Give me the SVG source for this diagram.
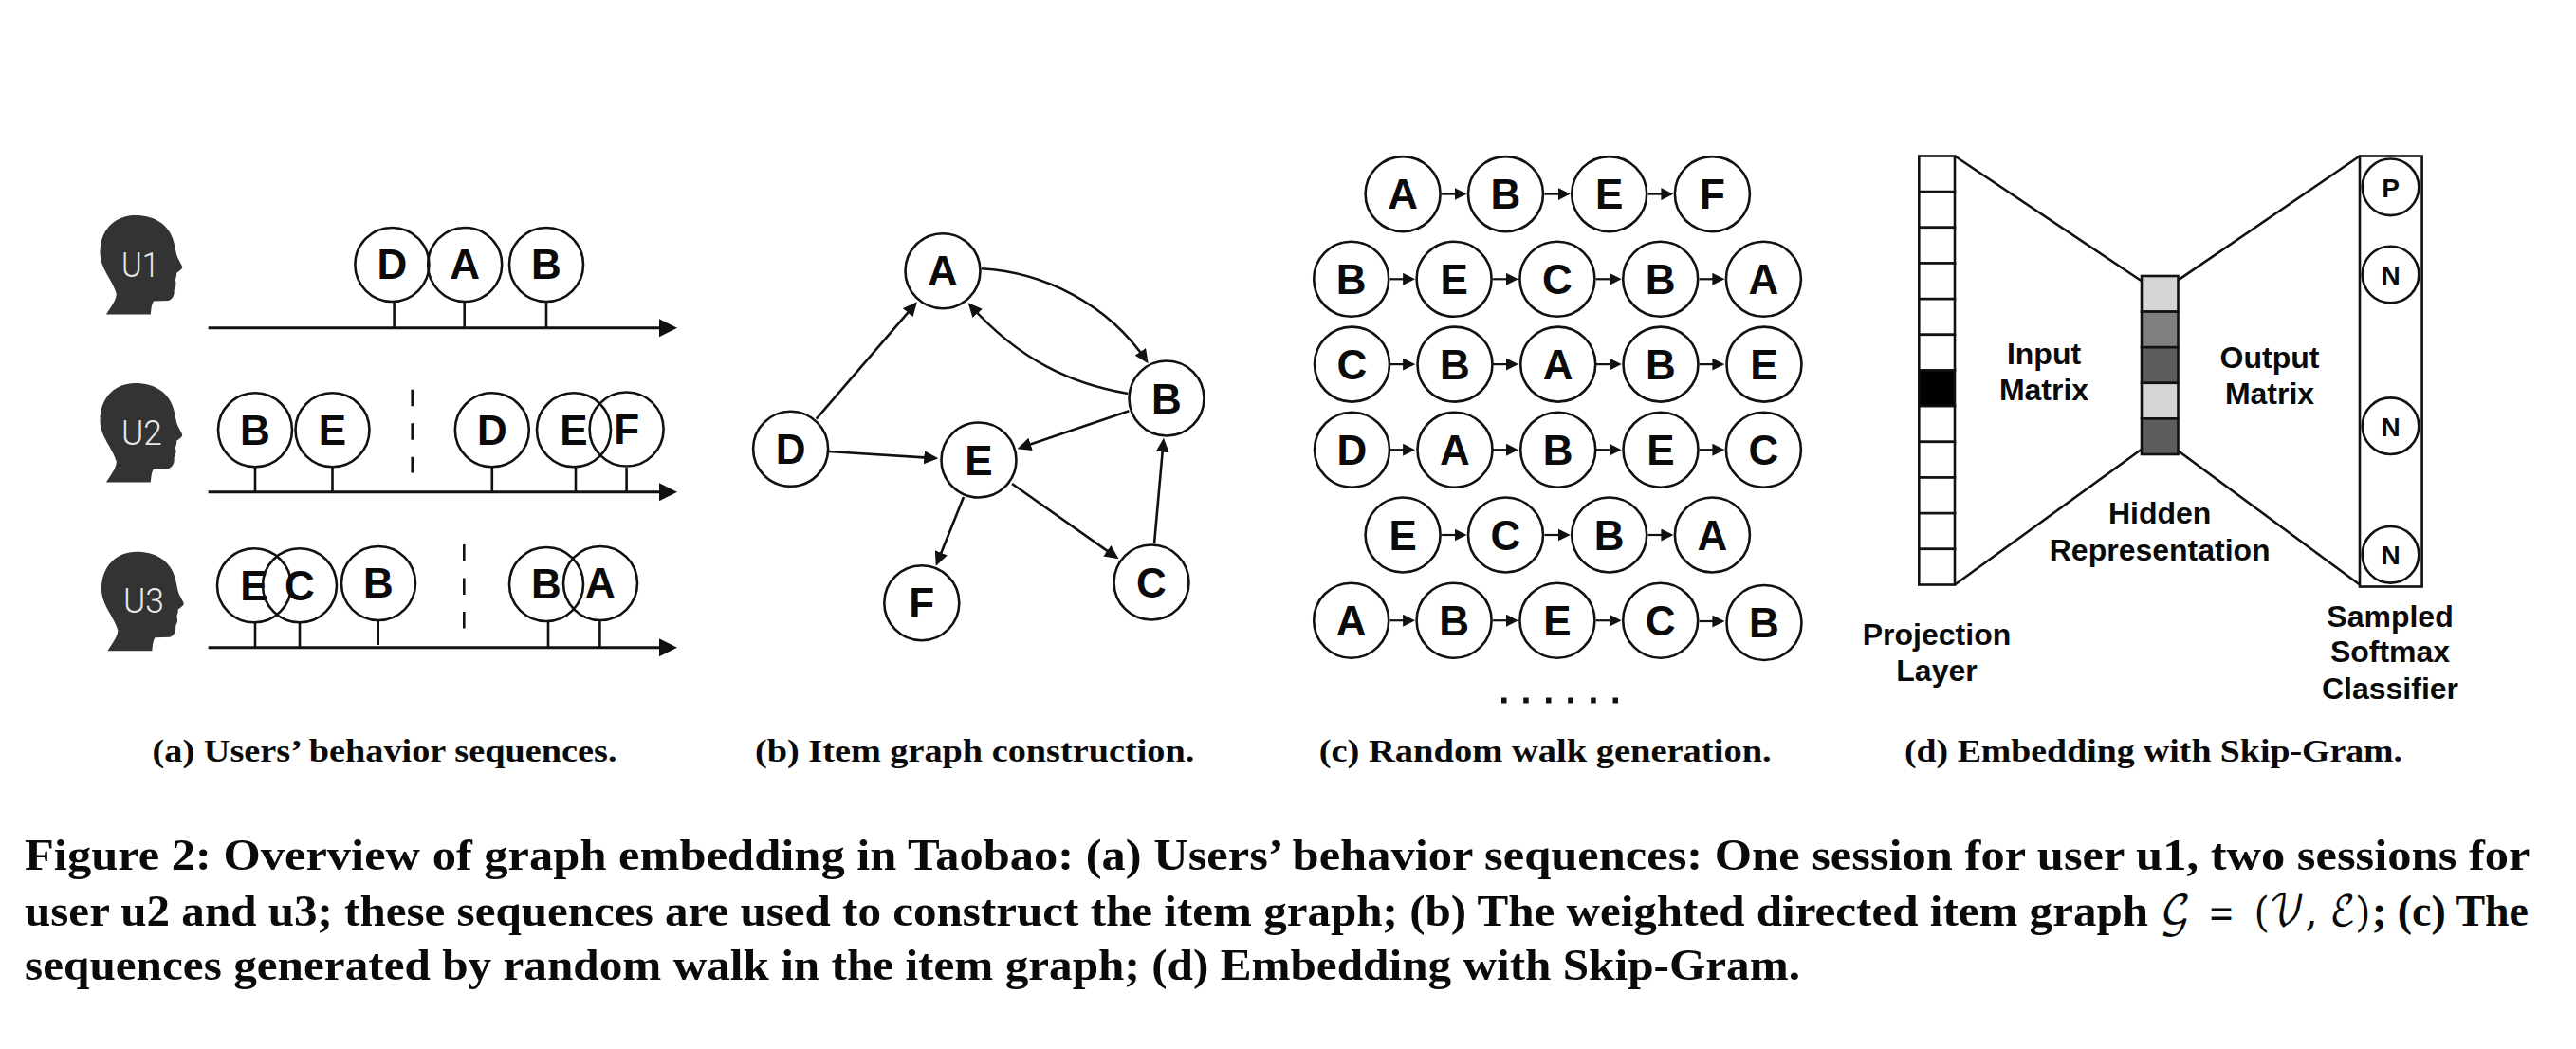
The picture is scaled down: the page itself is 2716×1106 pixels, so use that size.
<svg xmlns="http://www.w3.org/2000/svg" width="2716" height="1106" viewBox="0 0 2716 1106">
<style>
.n{fill:#fff;stroke:#111;stroke-width:2.6}
.o{fill:none;stroke:#111;stroke-width:2.6}
.l{font-family:"Liberation Sans",Arial,sans-serif;font-weight:700;text-anchor:middle;fill:#0a0a0a}
.b{font-size:44px}
.m{font-size:28px}
.t{font-size:32px}
.u{font-family:Roboto,"Liberation Sans",Arial,sans-serif;font-weight:300;font-size:36px;fill:#e8e8e8}
.ln{fill:none;stroke:#111;stroke-width:2.6}
.ax{fill:none;stroke:#111;stroke-width:3;marker-end:url(#axh)}
.gr{fill:none;stroke:#111;stroke-width:2.6;marker-end:url(#gh)}
.wk{fill:none;stroke:#111;stroke-width:2.2;marker-end:url(#wh)}
.ds{fill:none;stroke:#111;stroke-width:2.6;stroke-dasharray:17.5 18}
.c{font-family:"Liberation Serif","Times New Roman",serif;font-weight:700;fill:#0a0a0a}
.c1{font-size:34px}
.c2{font-size:47px}
.cal{font-family:"DejaVu Math TeX Gyre","DejaVu Serif","Liberation Serif",serif;font-weight:400;font-size:44px}
</style>
<defs>
<marker id="axh" markerUnits="userSpaceOnUse" markerWidth="20" markerHeight="20" refX="2" refY="10" orient="auto"><path d="M0,0.5L19,10L0,19.5Z" fill="#111"/></marker>
<marker id="gh" markerUnits="userSpaceOnUse" markerWidth="15" markerHeight="14" refX="12" refY="7" orient="auto"><path d="M0,0L15,7L0,14Z" fill="#111"/></marker>
<marker id="wh" markerUnits="userSpaceOnUse" markerWidth="13" markerHeight="13" refX="10.4" refY="6.5" orient="auto"><path d="M0,0L13,6.5L0,13Z" fill="#111"/></marker>
<path id="head" fill="#333" d="M6.5,104.5 C11,97 17,90 17.3,82.7 C13,68 0,56 0,39.3 C0,14 17,0 36.9,0 C58,0 71,10 76,23 C78.5,29 79,34 80.2,39.3 C81,45 85,50 86.7,54.3 C87,57 83,59 80.5,61 C81.5,64 79,67 79.5,69 C81,73 79,76 78,79 C79,84 76,89 72,90 L56.4,90.5 C54,94 54,99 53.3,104.5Z"/>
</defs>

<g id="connectors">
<g id="axes-a">
<path class="ax" d="M219.6,345.7H697"/><path class="ax" d="M219.6,518.7H697"/><path class="ax" d="M219.6,682.7H697"/>
<path class="ln" d="M415.6,318V345M489.7,318V345M576,318V345"/>
<path class="ln" d="M269,493V518M350.5,493V518M518.8,493V518M607,493V518M660.6,493V518"/>
<path class="ln" d="M269,657V682M316,657V682M398.7,655V680M578,656V682M632.4,655V682"/>
<path class="ds" d="M434.7,410.7V498.5"/><path class="ds" d="M489.3,574V663"/>
</g>
<g id="edges-b">
<path class="gr" d="M860.7,441.7L965,320.6"/>
<path class="gr" d="M873.6,476L986.3,483.1"/>
<path class="gr" d="M1035,283.3C1100,287 1168,320 1209,380.8"/>
<path class="gr" d="M1189.3,415C1130,405 1075,380 1022.7,321.5"/>
<path class="gr" d="M1190.4,433.3L1075.3,472.3"/>
<path class="gr" d="M1016,524L987.9,593.9"/>
<path class="gr" d="M1067,510L1177.1,587.6"/>
<path class="gr" d="M1217,573.3L1226.7,464.7"/>
</g>
<g id="edges-c">
<path class="wk" d="M1520.1,204.6H1543.9"/><path class="wk" d="M1628.5,204.6H1653.1"/><path class="wk" d="M1737.7,204.6H1761.8"/>
<path class="wk" d="M1465.7,294.3H1489.5"/><path class="wk" d="M1574.1,294.3H1598.3"/><path class="wk" d="M1682.9,294.3H1707.1"/><path class="wk" d="M1791.7,294.3H1815.8"/>
<path class="wk" d="M1465.7,384.1H1489.5"/><path class="wk" d="M1574.1,384.1H1598.3"/><path class="wk" d="M1682.9,384.1H1707.1"/><path class="wk" d="M1791.7,384.1H1815.8"/>
<path class="wk" d="M1465.7,474.2H1489.5"/><path class="wk" d="M1574.1,474.2H1598.3"/><path class="wk" d="M1682.9,474.2H1707.1"/><path class="wk" d="M1791.7,474.2H1815.8"/>
<path class="wk" d="M1520.1,564H1543.9"/><path class="wk" d="M1628.5,564H1653.1"/><path class="wk" d="M1737.7,564H1761.8"/>
<path class="wk" d="M1465.7,654.2H1489.5"/><path class="wk" d="M1574.1,654.2H1598.3"/><path class="wk" d="M1682.9,654.2H1707.1"/><path class="wk" d="M1791.7,655H1815.8"/>
</g>
<g id="edges-d">
<path class="ln" d="M2061,164.5L2257.5,296M2061,616.5L2257.5,474M2296.5,295.4L2488,164.5M2296.5,475.3L2488,616.5"/>
</g>
</g>

<g id="u1"><use href="#head" x="105.5" y="227"/><text class="u" x="128" y="292" textLength="40" lengthAdjust="spacingAndGlyphs">U1</text></g>
<g id="u2"><use href="#head" x="105.5" y="404"/><text class="u" x="128" y="469" textLength="43" lengthAdjust="spacingAndGlyphs">U2</text></g>
<g id="u3"><use href="#head" x="107" y="581.7"/><text class="u" x="130" y="646" textLength="43" lengthAdjust="spacingAndGlyphs">U3</text></g>

<g id="a-u1-d"><circle class="o" cx="413.4" cy="279" r="39"/><text class="l b" x="413.4" y="294">D</text></g>
<g id="a-u1-a"><circle class="o" cx="490.2" cy="279" r="39"/><text class="l b" x="490.2" y="294">A</text></g>
<g id="a-u1-b"><circle class="o" cx="576" cy="279" r="39"/><text class="l b" x="576" y="294">B</text></g>
<g id="a-u2-b"><circle class="o" cx="269" cy="453.3" r="39"/><text class="l b" x="269" y="468.5">B</text></g>
<g id="a-u2-e"><circle class="o" cx="350.5" cy="453.3" r="39"/><text class="l b" x="350.5" y="468.5">E</text></g>
<g id="a-u2-d"><circle class="o" cx="518.8" cy="453.3" r="39"/><text class="l b" x="518.8" y="468.5">D</text></g>
<g id="a-u2-e2"><circle class="o" cx="605" cy="453.3" r="39"/><text class="l b" x="605" y="468.5">E</text></g>
<g id="a-u2-f"><circle class="o" cx="660.6" cy="452.5" r="39"/><text class="l b" x="660.6" y="468">F</text></g>
<g id="a-u3-e"><circle class="o" cx="268" cy="617.3" r="39"/><text class="l b" x="268" y="632.5">E</text></g>
<g id="a-u3-c"><circle class="o" cx="316" cy="617.3" r="39"/><text class="l b" x="316" y="632.5">C</text></g>
<g id="a-u3-b"><circle class="o" cx="399" cy="615" r="39"/><text class="l b" x="399" y="630">B</text></g>
<g id="a-u3-b2"><circle class="o" cx="576" cy="616" r="39"/><text class="l b" x="576" y="631">B</text></g>
<g id="a-u3-a"><circle class="o" cx="633" cy="615" r="39"/><text class="l b" x="633" y="630">A</text></g>

<g id="b-a"><circle class="n" cx="994" cy="285.7" r="39.5"/><text class="l b" x="994" y="301">A</text></g>
<g id="b-b"><circle class="n" cx="1230" cy="420" r="39.5"/><text class="l b" x="1230" y="435.5">B</text></g>
<g id="b-d"><circle class="n" cx="833.6" cy="473.3" r="39.5"/><text class="l b" x="833.6" y="488.5">D</text></g>
<g id="b-e"><circle class="n" cx="1032" cy="485" r="39.5"/><text class="l b" x="1032" y="500.5">E</text></g>
<g id="b-f"><circle class="n" cx="971.8" cy="635.7" r="39.5"/><text class="l b" x="971.8" y="651">F</text></g>
<g id="b-c"><circle class="n" cx="1214" cy="614" r="39.5"/><text class="l b" x="1214" y="629.5">C</text></g>

<g id="c-r1-a"><circle class="n" cx="1479.1" cy="204.6" r="39.5"/><text class="l b" x="1479.1" y="220">A</text></g>
<g id="c-r1-b"><circle class="n" cx="1587.5" cy="204.6" r="39.5"/><text class="l b" x="1587.5" y="220">B</text></g>
<g id="c-r1-e"><circle class="n" cx="1696.7" cy="204.6" r="39.5"/><text class="l b" x="1696.7" y="220">E</text></g>
<g id="c-r1-f"><circle class="n" cx="1805.4" cy="204.6" r="39.5"/><text class="l b" x="1805.4" y="220">F</text></g>
<g id="c-r2-b"><circle class="n" cx="1424.7" cy="294.3" r="39.5"/><text class="l b" x="1424.7" y="310">B</text></g>
<g id="c-r2-e"><circle class="n" cx="1533.1" cy="294.3" r="39.5"/><text class="l b" x="1533.1" y="310">E</text></g>
<g id="c-r2-c"><circle class="n" cx="1641.9" cy="294.3" r="39.5"/><text class="l b" x="1641.9" y="310">C</text></g>
<g id="c-r2-b2"><circle class="n" cx="1750.7" cy="294.3" r="39.5"/><text class="l b" x="1750.7" y="310">B</text></g>
<g id="c-r2-a"><circle class="n" cx="1859.4" cy="294.3" r="39.5"/><text class="l b" x="1859.4" y="310">A</text></g>
<g id="c-r3-c"><circle class="n" cx="1425.5" cy="384.1" r="39.5"/><text class="l b" x="1425.5" y="400">C</text></g>
<g id="c-r3-b"><circle class="n" cx="1534" cy="384.1" r="39.5"/><text class="l b" x="1534" y="400">B</text></g>
<g id="c-r3-a"><circle class="n" cx="1642.7" cy="384.1" r="39.5"/><text class="l b" x="1642.7" y="400">A</text></g>
<g id="c-r3-b2"><circle class="n" cx="1751" cy="384.1" r="39.5"/><text class="l b" x="1751" y="400">B</text></g>
<g id="c-r3-e"><circle class="n" cx="1860" cy="384.1" r="39.5"/><text class="l b" x="1860" y="400">E</text></g>
<g id="c-r4-d"><circle class="n" cx="1425.5" cy="474.2" r="39.5"/><text class="l b" x="1425.5" y="490">D</text></g>
<g id="c-r4-a"><circle class="n" cx="1534" cy="474.2" r="39.5"/><text class="l b" x="1534" y="490">A</text></g>
<g id="c-r4-b"><circle class="n" cx="1642.7" cy="474.2" r="39.5"/><text class="l b" x="1642.7" y="490">B</text></g>
<g id="c-r4-e"><circle class="n" cx="1751" cy="474.2" r="39.5"/><text class="l b" x="1751" y="490">E</text></g>
<g id="c-r4-c"><circle class="n" cx="1859.4" cy="474.2" r="39.5"/><text class="l b" x="1859.4" y="490">C</text></g>
<g id="c-r5-e"><circle class="n" cx="1479.1" cy="564" r="39.5"/><text class="l b" x="1479.1" y="580">E</text></g>
<g id="c-r5-c"><circle class="n" cx="1587.5" cy="564" r="39.5"/><text class="l b" x="1587.5" y="580">C</text></g>
<g id="c-r5-b"><circle class="n" cx="1696.7" cy="564" r="39.5"/><text class="l b" x="1696.7" y="580">B</text></g>
<g id="c-r5-a"><circle class="n" cx="1805.4" cy="564" r="39.5"/><text class="l b" x="1805.4" y="580">A</text></g>
<g id="c-r6-a"><circle class="n" cx="1424.7" cy="654.2" r="39.5"/><text class="l b" x="1424.7" y="670">A</text></g>
<g id="c-r6-b"><circle class="n" cx="1533.1" cy="654.2" r="39.5"/><text class="l b" x="1533.1" y="670">B</text></g>
<g id="c-r6-e"><circle class="n" cx="1641.9" cy="654.2" r="39.5"/><text class="l b" x="1641.9" y="670">E</text></g>
<g id="c-r6-c"><circle class="n" cx="1750.7" cy="654.2" r="39.5"/><text class="l b" x="1750.7" y="670">C</text></g>
<g id="c-r6-b2"><circle class="n" cx="1860" cy="656.5" r="39.5"/><text class="l b" x="1860" y="672">B</text></g>
<g id="c-dots" fill="#111"><rect x="1583" y="735.5" width="5.5" height="6"/><rect x="1606.2" y="735.5" width="5.5" height="6"/><rect x="1630" y="735.5" width="5.5" height="6"/><rect x="1653.2" y="735.5" width="5.5" height="6"/><rect x="1677.2" y="735.5" width="5.5" height="6"/><rect x="1700.5" y="735.5" width="5.5" height="6"/></g>

<g id="projection-layer">
<rect class="n" x="2023.3" y="164.5" width="37.7" height="37.67"/><rect class="n" x="2023.3" y="202.17" width="37.7" height="37.67"/><rect class="n" x="2023.3" y="239.83" width="37.7" height="37.67"/><rect class="n" x="2023.3" y="277.5" width="37.7" height="37.67"/><rect class="n" x="2023.3" y="315.17" width="37.7" height="37.67"/><rect class="n" x="2023.3" y="352.83" width="37.7" height="37.67"/>
<rect class="n" x="2023.3" y="390.5" width="37.7" height="37.67" style="fill:#000"/>
<rect class="n" x="2023.3" y="428.17" width="37.7" height="37.67"/><rect class="n" x="2023.3" y="465.83" width="37.7" height="37.67"/><rect class="n" x="2023.3" y="503.5" width="37.7" height="37.67"/><rect class="n" x="2023.3" y="541.17" width="37.7" height="37.67"/><rect class="n" x="2023.3" y="578.83" width="37.7" height="37.67"/>
<text class="l t" x="2042" y="679.7">Projection</text><text class="l t" x="2042" y="718">Layer</text>
</g>
<g id="hidden-layer">
<rect class="n" x="2258" y="291" width="38.5" height="37.6" style="fill:#d6d4d4"/><rect class="n" x="2258" y="328.6" width="38.5" height="37.6" style="fill:#7e807e"/><rect class="n" x="2258" y="366.2" width="38.5" height="37.6" style="fill:#5d5d5d"/><rect class="n" x="2258" y="403.8" width="38.5" height="37.6" style="fill:#d6d4d4"/><rect class="n" x="2258" y="441.4" width="38.5" height="37.6" style="fill:#5d5d5d"/>
<text class="l t" x="2277.2" y="552">Hidden</text><text class="l t" x="2277.2" y="590.8">Representation</text>
</g>
<g id="input-matrix"><text class="l t" x="2155" y="384">Input</text><text class="l t" x="2155" y="421.5">Matrix</text></g>
<g id="output-matrix"><text class="l t" x="2393" y="388.3">Output</text><text class="l t" x="2393" y="425.9">Matrix</text></g>
<g id="softmax">
<rect class="n" x="2488" y="164.5" width="65.6" height="454"/>
<circle class="n" cx="2520.5" cy="197.3" r="29.8"/><text class="l m" x="2520.5" y="208">P</text>
<circle class="n" cx="2520.5" cy="289.5" r="29.8"/><text class="l m" x="2520.5" y="300">N</text>
<circle class="n" cx="2520.5" cy="449.2" r="29.8"/><text class="l m" x="2520.5" y="459.5">N</text>
<circle class="n" cx="2520.5" cy="584.8" r="29.8"/><text class="l m" x="2520.5" y="594.7">N</text>
<text class="l t" x="2520" y="660.8">Sampled</text><text class="l t" x="2520" y="698.3">Softmax</text><text class="l t" x="2520" y="737">Classifier</text>
</g>

<g id="captions">
<text class="c c1" x="160.5" y="802.7" textLength="490" lengthAdjust="spacingAndGlyphs">(a) Users’ behavior sequences.</text>
<text class="c c1" x="796" y="802.7" textLength="463.3" lengthAdjust="spacingAndGlyphs">(b) Item graph construction.</text>
<text class="c c1" x="1390.7" y="802.7" textLength="477" lengthAdjust="spacingAndGlyphs">(c) Random walk generation.</text>
<text class="c c1" x="2008" y="802.7" textLength="525" lengthAdjust="spacingAndGlyphs">(d) Embedding with Skip-Gram.</text>
</g>
<g id="figure-caption">
<text class="c c2" x="26" y="917.3" textLength="2641.4" lengthAdjust="spacingAndGlyphs">Figure 2: Overview of graph embedding in Taobao: (a) Users’ behavior sequences: One session for user u1, two sessions for</text>
<text class="c c2" x="26" y="976" textLength="2239" lengthAdjust="spacingAndGlyphs">user u2 and u3; these sequences are used to construct the item graph; (b) The weighted directed item graph</text>
<text class="c cal" x="2277" y="976" textLength="33" lengthAdjust="spacingAndGlyphs">𝒢</text>
<text class="c cal" x="2329" y="976" textLength="26" lengthAdjust="spacingAndGlyphs">=</text>
<text class="c cal" x="2375" y="976" textLength="126" lengthAdjust="spacingAndGlyphs">(𝒱, ℰ)</text>
<text class="c c2" x="2501" y="976" textLength="165" lengthAdjust="spacingAndGlyphs">; (c) The</text>
<text class="c c2" x="26" y="1032.7" textLength="1872" lengthAdjust="spacingAndGlyphs">sequences generated by random walk in the item graph; (d) Embedding with Skip-Gram.</text>
</g>
</svg>
